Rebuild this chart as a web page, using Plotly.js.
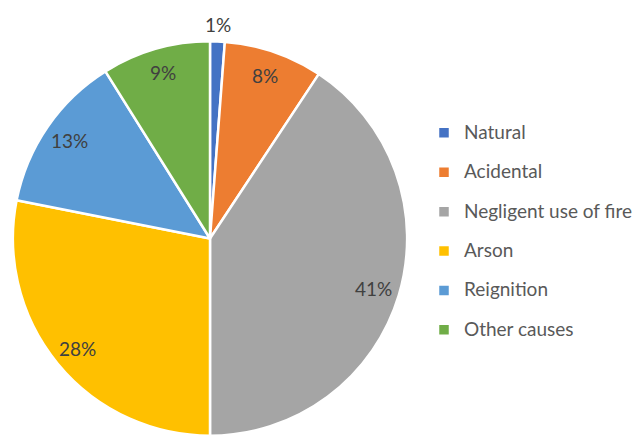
<!DOCTYPE html>
<html>
<head>
<meta charset="utf-8">
<script src="https://cdn.plot.ly/plotly-3.0.1.min.js"></script>
<style>html,body{margin:0;padding:0;background:#fff;}#chart{width:637px;height:437px;}</style>
</head>
<body>
<div id="chart"></div>
<script>
const categories = ["Natural", "Acidental", "Negligent use of fire", "Arson", "Reignition", "Other causes"];
const shares = [1.2, 8.1, 40.7, 28.1, 13.0, 8.9];
const colors = ["#4472C4", "#ED7D31", "#A5A5A5", "#FFC000", "#5B9BD5", "#70AD47"];
const labelOutside = [true, false, false, false, false, false];

const W = 637, H = 437;
const domX = [13 / W, 411 / W];
const domY = [0, 397 / H];
const FONT = "Lato, 'Open Sans', sans-serif";

const legendLabels = categories.map(c => '<span style="font-size:19px;baseline-shift:5px">' + c + '</span>');

const trace = {
  type: "pie",
  labels: legendLabels,
  values: shares,
  sort: false,
  direction: "clockwise",
  rotation: 0,
  marker: {colors: colors, line: {color: "#ffffff", width: 2.5}},
  textinfo: "none",
  hoverinfo: "none",
  domain: {x: domX, y: domY}
};

// Data labels placed along each slice's bisector (Excel "best fit" style)
const total = shares.reduce((a, b) => a + b, 0);
const cxPx = (domX[0] + domX[1]) / 2 * W;
const cyPx = H - (domY[0] + domY[1]) / 2 * H;
const R = Math.min((domX[1] - domX[0]) * W, (domY[1] - domY[0]) * H) / 2;
let cum = 0;
const annotations = shares.map((v, i) => {
  const mid = (cum + v / 2) / total;
  cum += v;
  const th = mid * 2 * Math.PI;
  const r = labelOutside[i] ? 1.08 * R : 0.87 * R;
  const xp = cxPx + r * Math.sin(th);
  const yp = cyPx - r * Math.cos(th);
  return {
    x: xp / W, y: 1 - yp / H, xref: "paper", yref: "paper",
    xanchor: "center", yanchor: "middle", showarrow: false,
    text: Math.round(v / total * 100) + "%",
    font: {family: FONT, size: 19, color: "#404040"}
  };
});

const layout = {
  width: W, height: H,
  margin: {l: 0, r: 0, t: 0, b: 0},
  paper_bgcolor: "#ffffff",
  showlegend: true,
  annotations: annotations,
  legend: {
    x: 0.672, xanchor: "left",
    y: 0.7525, yanchor: "top",
    font: {family: FONT, size: 28, color: "#595959"},
    itemwidth: 30,
    bgcolor: "rgba(0,0,0,0)"
  }
};

Plotly.newPlot("chart", [trace], layout, {displayModeBar: false, staticPlot: true});
</script>
</body>
</html>
